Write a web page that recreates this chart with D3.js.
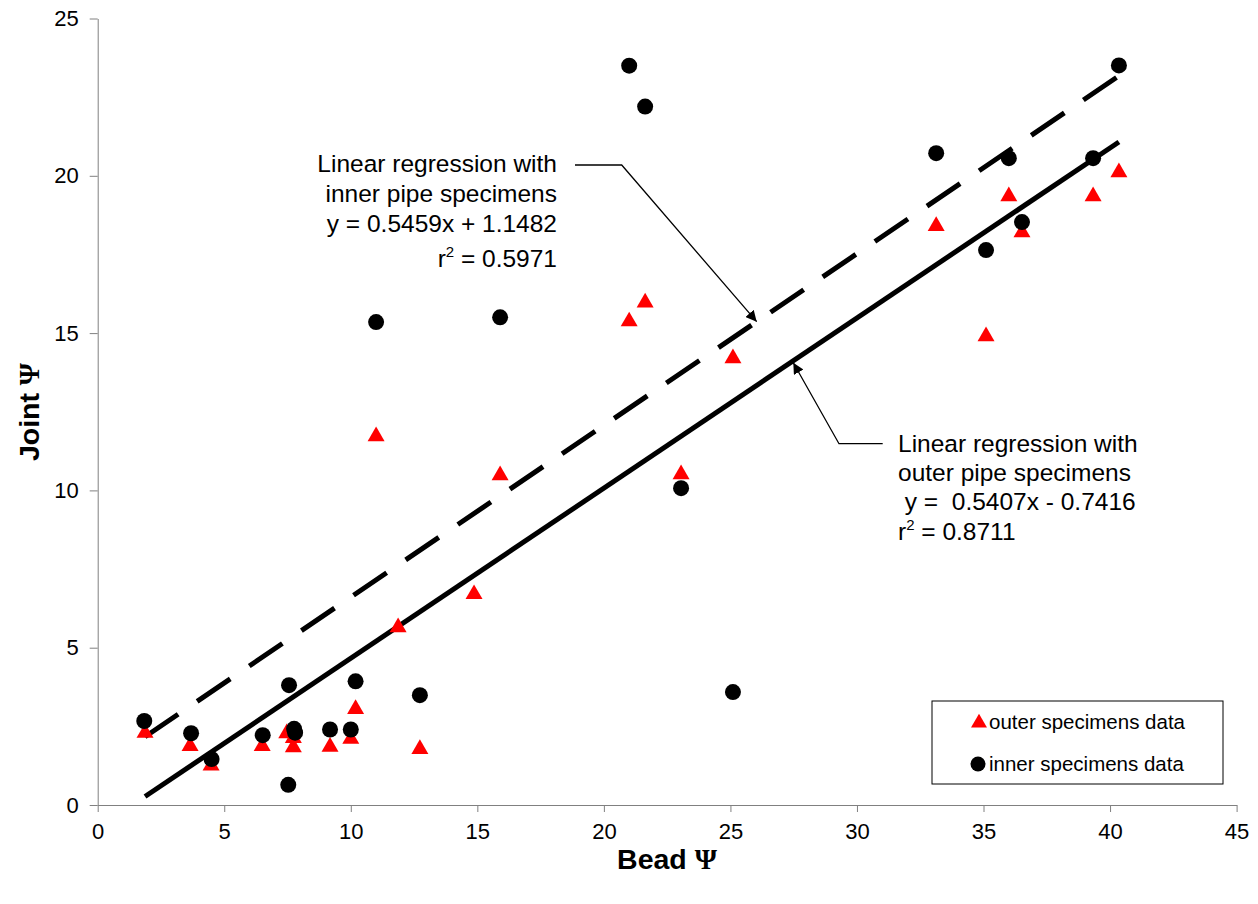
<!DOCTYPE html>
<html lang="en">
<head>
<meta charset="UTF-8">
<title>Joint vs Bead</title>
<script src="https://cdn.jsdelivr.net/npm/d3@7/dist/d3.min.js"></script>
<style>
    body { margin: 0; background: #fff; }
    svg { font-family: "Liberation Sans", Arial, sans-serif; }
    .axis path, .axis line { stroke: #808080; }
    .axis text { font-size: 22px; fill: #000; }
    .note { font-size: 24.5px; }
</style>
</head>
<body>
<svg id="chart" width="1258" height="904"></svg>
<script>
// outer specimens (red triangles)
var outerX = [1.87, 3.65, 4.48, 6.5, 7.47, 7.73, 7.73, 9.18, 10.0, 10.19, 12.73, 11.87, 11.0, 14.87, 15.9, 21.0, 21.63, 23.05, 25.1, 33.13, 35.1, 36.0, 36.52, 39.33, 40.35];
var outerY = [2.29, 1.87, 1.25, 1.87, 2.28, 2.13, 1.83, 1.85, 2.1, 3.05, 1.78, 5.65, 11.72, 6.7, 10.48, 15.37, 15.97, 10.51, 14.2, 18.4, 14.9, 19.35, 18.2, 19.35, 20.11];
// inner specimens (black circles)
var innerX = [1.84, 3.69, 4.5, 6.52, 7.56, 7.53, 7.76, 7.8, 9.18, 10.0, 10.19, 12.73, 11.0, 15.9, 21.0, 21.63, 23.05, 25.1, 33.13, 35.1, 36.0, 36.52, 39.33, 40.35];
var innerY = [2.67, 2.28, 1.46, 2.22, 3.81, 0.64, 2.42, 2.3, 2.4, 2.4, 3.93, 3.49, 15.35, 15.5, 23.5, 22.2, 10.07, 3.59, 20.72, 17.64, 20.56, 18.53, 20.56, 23.51];
// regression fits: slope, intercept, x range
var innerFit = {slope: 0.5459, intercept: 1.1482, from: 1.87, to: 40.35};
var outerFit = {slope: 0.5407, intercept: -0.7416, from: 1.87, to: 40.35};
var xTicks = [0, 5, 10, 15, 20, 25, 30, 35, 40, 45];
var yTicks = [0, 5, 10, 15, 20, 25];

var svg = d3.select('#chart');
var x = d3.scaleLinear().domain([0, 45]).range([97.7, 1236.6]);
var y = d3.scaleLinear().domain([0, 25]).range([805, 18.5]);

// axes
svg.append('g').attr('class', 'axis')
    .attr('transform', 'translate(0,805)')
    .call(d3.axisBottom(x).tickValues(xTicks).tickSize(7).tickPadding(11).tickSizeOuter(0));
svg.append('g').attr('class', 'axis')
    .attr('transform', 'translate(97.7,0)')
    .call(d3.axisLeft(y).tickValues(yTicks).tickSize(8).tickPadding(11).tickSizeOuter(0));
svg.selectAll('.axis text').attr('font-family', '"Liberation Sans", Arial, sans-serif');

// axis titles
svg.append('text')
    .attr('x', 667).attr('y', 869)
    .attr('text-anchor', 'middle')
    .attr('font-size', '28.5px').attr('font-weight', 'bold')
    .html('Bead <tspan font-family="Liberation Serif">Ψ</tspan>');
svg.append('text')
    .attr('transform', 'translate(39,412) rotate(-90)')
    .attr('text-anchor', 'middle')
    .attr('font-size', '28.5px').attr('font-weight', 'bold')
    .html('Joint <tspan font-family="Liberation Serif">Ψ</tspan>');

// regression lines
function fitLine(f) {
    return [[f.from, f.slope * f.from + f.intercept], [f.to, f.slope * f.to + f.intercept]];
}
var line = d3.line().x(d => x(d[0])).y(d => y(d[1]));

svg.append('path').datum(fitLine(innerFit))
    .attr('d', line).attr('fill', 'none')
    .attr('stroke', '#000').attr('stroke-width', 5)
    .attr('stroke-dasharray', '40,23');
svg.append('path').datum(fitLine(outerFit))
    .attr('d', line).attr('fill', 'none')
    .attr('stroke', '#000').attr('stroke-width', 5);

// points
var tri = d3.symbol().type(d3.symbolTriangle).size(125);
svg.append('g').selectAll('path')
    .data(outerX.map((v, i) => [v, outerY[i]]))
    .join('path')
    .attr('d', tri)
    .attr('transform', d => `translate(${x(d[0])},${y(d[1])})`)
    .attr('fill', '#ff0000');
svg.append('g').selectAll('circle')
    .data(innerX.map((v, i) => [v, innerY[i]]))
    .join('circle')
    .attr('cx', d => x(d[0])).attr('cy', d => y(d[1]))
    .attr('r', 8).attr('fill', '#000');

// arrows
svg.append('defs').append('marker')
    .attr('id', 'arrow').attr('viewBox', '0 0 10 10')
    .attr('refX', 10).attr('refY', 5)
    .attr('markerWidth', 11).attr('markerHeight', 11)
    .attr('markerUnits', 'userSpaceOnUse')
    .attr('orient', 'auto')
    .append('path').attr('d', 'M0,0L10,5L0,10Z').attr('fill', '#000');

svg.append('polyline')
    .attr('points', '575,165 621.7,165 756.7,321.7')
    .attr('fill', 'none').attr('stroke', '#000').attr('stroke-width', 1.3)
    .attr('marker-end', 'url(#arrow)');
svg.append('polyline')
    .attr('points', '882.7,443.7 839,443.7 793.3,362.7')
    .attr('fill', 'none').attr('stroke', '#000').attr('stroke-width', 1.3)
    .attr('marker-end', 'url(#arrow)');

// annotations
var n1 = svg.append('text').attr('class', 'note').attr('text-anchor', 'end');
n1.append('tspan').attr('x', 557).attr('y', 172).text('Linear regression with');
n1.append('tspan').attr('x', 557).attr('y', 202).text('inner pipe specimens');
n1.append('tspan').attr('x', 557).attr('y', 232).text('y = 0.5459x + 1.1482');
n1.append('tspan').attr('x', 557).attr('y', 267).text('r');
n1.append('tspan').attr('dy', -10).attr('font-size', '15px').text('2');
n1.append('tspan').attr('dy', 10).text(' = 0.5971');

var n2 = svg.append('text').attr('class', 'note').attr('text-anchor', 'start');
n2.append('tspan').attr('x', 898).attr('y', 452).text('Linear regression with');
n2.append('tspan').attr('x', 898).attr('y', 481).text('outer pipe specimens');
n2.append('tspan').attr('x', 898).attr('y', 510).attr('xml:space', 'preserve').text(' y =  0.5407x - 0.7416');
n2.append('tspan').attr('x', 898).attr('y', 540).text('r');
n2.append('tspan').attr('dy', -10).attr('font-size', '15px').text('2');
n2.append('tspan').attr('dy', 10).text(' = 0.8711');

// legend
var lg = svg.append('g');
lg.append('rect')
    .attr('x', 932).attr('y', 701).attr('width', 291).attr('height', 83)
    .attr('fill', '#fff').attr('stroke', '#000').attr('stroke-width', 1);
lg.append('path').attr('d', d3.symbol().type(d3.symbolTriangle).size(110))
    .attr('transform', 'translate(979,723)').attr('fill', '#ff0000');
lg.append('circle').attr('cx', 978).attr('cy', 764).attr('r', 7.5).attr('fill', '#000');
lg.append('text').attr('x', 989).attr('y', 729).attr('font-size', '20.5px').text('outer specimens data');
lg.append('text').attr('x', 989).attr('y', 771).attr('font-size', '20.5px').text('inner specimens data');
</script>
</body>
</html>
